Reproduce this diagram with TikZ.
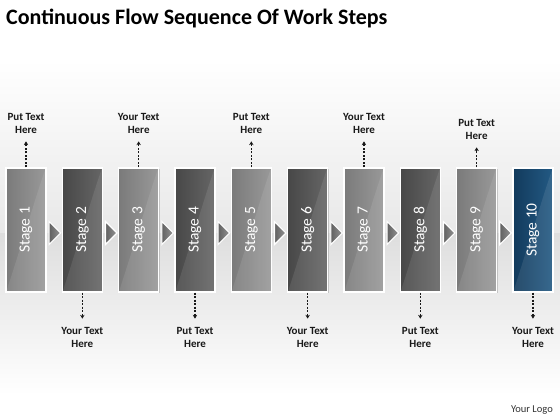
\documentclass[tikz,border=0pt]{standalone}
\usepackage{fontspec}
\setmainfont{Carlito}
\usetikzlibrary{arrows.meta,shadows,calc}
\tikzset{
  stagebox/.style={draw=white, line width=1.3pt, minimum width=40pt, minimum height=124pt, inner sep=0pt,
    drop shadow={opacity=0.35, shadow xshift=1pt, shadow yshift=-1pt}},
  oddbox/.style={stagebox, left color=black!52, right color=black!40},
  evenbox/.style={stagebox, left color=black!72, right color=black!60},
  bluebox/.style={stagebox, left color=blueA, right color=blueB},
  stagetext/.style={rotate=90, text=white, font=\fontsize{15.5}{17}\selectfont, inner sep=0pt},
  lbl/.style={align=center, font=\bfseries\fontsize{11}{13.5}\selectfont, inner sep=0pt, text=black!90},
  dasharrow/.style={line width=1.1pt, dash pattern=on 2.2pt off 1.3pt, -{Stealth[length=3.8pt,width=4.4pt]}, black!90},
  tri/.style={draw=white, line width=1.1pt, left color=black!62, right color=black!42},
  hilite/.style={fill=white, fill opacity=0.09, draw=none}
}
\definecolor{blueA}{HTML}{123A5C}
\definecolor{blueB}{HTML}{235A84}
\begin{document}
\begin{tikzpicture}[x=1pt,y=-1pt]
\useasboundingbox (0,0) rectangle (560,420);
% background
\fill[white] (0,0) rectangle (560,420);
\shade[top color=white, bottom color=black!9] (0,60) rectangle (560,233);
\shade[top color=black!13, bottom color=white] (0,233) rectangle (560,395);
% title
\node[anchor=west, font=\bfseries\fontsize{22}{26}\selectfont, inner sep=0pt] (title) at (6,18) {Continuous Flow Sequence Of Work Steps};
% boxes
\foreach \i in {1,...,10} {
  \pgfmathsetmacro{\cx}{26+56.33*(\i-1)}
  \ifnum\i=10
    \node[bluebox] (s\i) at (\cx,230) {};
  \else\ifodd\i
    \node[oddbox] (s\i) at (\cx,230) {};
  \else
    \node[evenbox] (s\i) at (\cx,230) {};
  \fi\fi
  \fill[hilite] ($(s\i.south west)+(1,-1)$) .. controls ($(s\i.south west)+(20,-60)$) and ($(s\i.north east)+(-8,20)$) .. ($(s\i.north east)+(-1,1)$) -- ($(s\i.south east)+(-1,-1)$) -- cycle;
  \node[stagetext] (t\i) at (s\i) {Stage \i};
}
% triangles
\foreach \i in {1,...,9} {
  \draw[tri] ($(s\i.east)+(2.5,-8.5)$) -- ($(s\i.east)+(14,3)$) -- ($(s\i.east)+(2.5,14.5)$) -- cycle;
}
% top labels
\node[lbl] (l1) at (26,123.5) {Put Text\\Here};
\node[lbl] (l3) at ($(s3|-l1)$) {Your Text\\Here};
\node[lbl] (l5) at ($(s5|-l1)$) {Put Text\\Here};
\node[lbl] (l7) at ($(s7|-l1)$) {Your Text\\Here};
\node[lbl] (l9) at ($(s9|-l1)+(0,6)$) {Put Text\\Here};
\foreach \i in {1,3,5,7} {
  \coordinate (a\i) at ($(s\i.north)+(0,-26)$);
  \draw[dasharrow] (s\i.north) -- (a\i);
}
\coordinate (a9) at ($(s9.north)+(0,-20)$);
\draw[dasharrow] (s9.north) -- (a9);
% bottom labels
\node[lbl] (l2) at ($(s2)+(0,107.5)$) {Your Text\\Here};
\node[lbl] (l4) at ($(s4|-l2)$) {Put Text\\Here};
\node[lbl] (l6) at ($(s6|-l2)$) {Your Text\\Here};
\node[lbl] (l8) at ($(s8|-l2)$) {Put Text\\Here};
\node[lbl] (l10) at ($(s10|-l2)$) {Your Text\\Here};
\foreach \i in {2,4,6,8,10} {
  \coordinate (b\i) at ($(s\i.south)+(0,26)$);
  \draw[dasharrow] (s\i.south) -- (b\i);
}
% logo
\node[anchor=east, font=\fontsize{10.5}{12}\selectfont, inner sep=0pt, text=black!80] (logo) at (553,410) {Your Logo};
\end{tikzpicture}
\end{document}
